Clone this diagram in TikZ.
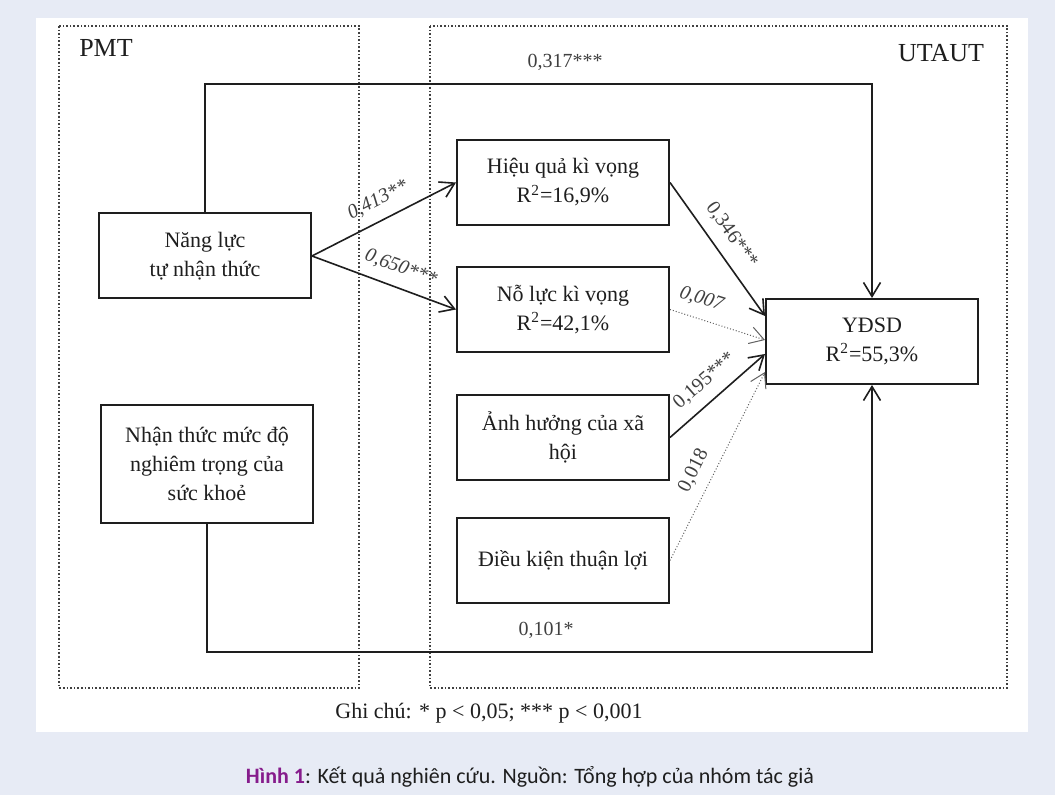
\documentclass[tikz,border=0pt]{standalone}
\usepackage{fontspec}
\setmainfont{Liberation Serif}
\newfontfamily\capfont{Carlito}
\usetikzlibrary{arrows.meta,positioning,calc}
\definecolor{figbg}{HTML}{E7EBF5}
\definecolor{figpurple}{HTML}{861C8C}
\definecolor{figink}{HTML}{1E1E1E}
\tikzset{
  var/.style={draw=figink, fill=white, line width=1pt, align=center, inner sep=3pt, minimum width=106pt, minimum height=42.5pt, font=\fontsize{11}{14.5}\selectfont, text=figink},
  grp/.style={draw=figink!85, densely dotted, line width=0.8pt},
  grplabel/.style={font=\fontsize{13}{15}\selectfont, text=figink},
  flow/.style={-{Straight Barb[length=7pt,width=8.5pt]}, line width=0.8pt, draw=figink},
  weak/.style={-{Straight Barb[length=7pt,width=8.5pt]}, line width=0.5pt, densely dotted, draw=figink!70},
  coef/.style={font=\fontsize{10}{12}\selectfont, text=figink!85, sloped, above=2pt},
  coefit/.style={coef, font=\fontsize{10}{12}\selectfont\itshape},
  info/.style={font=\fontsize{10}{12}\selectfont, text=figink!85, above=3pt}
}

\begin{document}
\begin{tikzpicture}[x=0.5pt, y=-0.5pt, node distance=20pt]
  \fill[figbg] (0,0) rectangle (1055,795);
  \fill[white] (36,18) rectangle (1028,732);
  \draw[grp] (59,26) rectangle (359,688);
  \draw[grp] (430,26) rectangle (1007,688);
  \node[grplabel] (pmt) at (106,48) {PMT};
  \node[grplabel] (utaut) at (941,53) {UTAUT};
  \node[var] (nl) at (205,256) {Năng lực\\tự nhận thức};
  \node[var, minimum height=59pt] (sev) at (207,464) {Nhận thức mức độ\\nghiêm trọng của\\sức khoẻ};
  \node[var] (pe) at (563,182.5) {Hiệu quả kì vọng\\R\textsuperscript{2}=16,9\%};
  \node[var, below=of pe] (ee) {Nỗ lực kì vọng\\R\textsuperscript{2}=42,1\%};
  \node[var, below=20.5pt of ee] (si) {Ảnh hưởng của xã\\hội};
  \node[var, below=18pt of si] (fc) {Điều kiện thuận lợi};
  \node[var] (bi) at (872,341.5) {YĐSD\\R\textsuperscript{2}=55,3\%};
  \coordinate (topy) at (0,84);
  \coordinate (boty) at (0,652);
  \draw[flow] (nl.north) |- node[info, pos=0.77] {0,317***} (topy -| bi.north) -- (bi.north);
  \draw[flow] (sev.south) |- node[info, pos=0.755] {0,101*} (boty -| bi.south) -- (bi.south);
  \draw[flow] (nl.east) -- node[coefit, pos=0.52] {0,413**} (pe.west);
  \draw[flow] (nl.east) -- node[coefit, pos=0.57] {0,650***} (ee.west);
  \draw[flow] (pe.east) -- node[coef, pos=0.48] {0,346***} ($(bi.north west)+(0,18)$);
  \draw[weak] (ee.east) -- node[coefit, pos=0.27] {0,007} ($(bi.north west)+(0,42)$);
  \draw[flow] (si.east) -- node[coef, pos=0.5] {0,195***} ($(bi.north west)+(0,56)$);
  \draw[weak] (fc.east) -- node[coef, pos=0.43] {0,018} ($(bi.north west)+(0,74)$);
  \node[font=\fontsize{11}{13}\selectfont, text=figink] (note) at (489,713) {Ghi chú: * p < 0,05; *** p < 0,001};
  \node[font=\capfont\fontsize{11}{13}\selectfont, text=figink] (cap) at (530,777) {\textcolor{figpurple}{\bfseries Hình 1}: Kết quả nghiên cứu. Nguồn: Tổng hợp của nhóm tác giả};
\end{tikzpicture}
\end{document}
